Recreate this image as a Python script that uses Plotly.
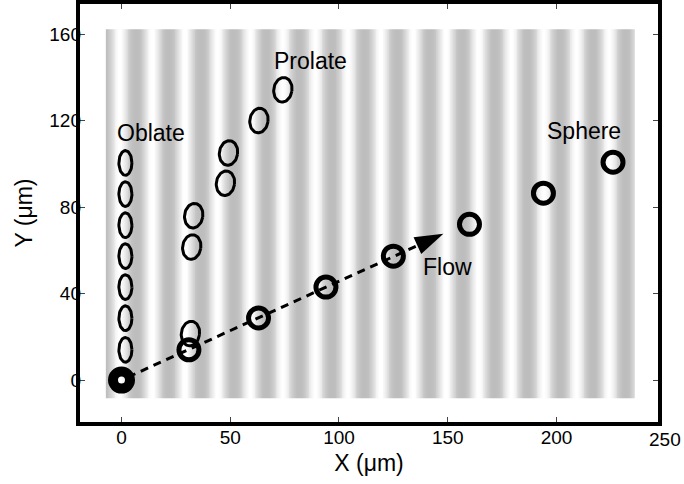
import numpy as np
import plotly.graph_objects as go

# ---- data ----
sphere_x = [0, 31, 63, 94, 125, 160, 194, 226]
sphere_y = [0, 14, 28.7, 43, 57.3, 72, 86.4, 100.7]

oblate_x = [1.8, 1.8, 1.8, 1.8, 1.8, 1.8, 1.8]
oblate_y = [14, 28.6, 43, 57.3, 71.6, 86, 100.4]

prolate_x = [31.7, 32.3, 33.2, 47.8, 49.2, 63.2, 74.2]
prolate_y = [21.5, 61.5, 76, 91, 105, 120, 134.2]

flow_start = [3, 1.4]
flow_tip = [148, 67.6]

labels = ["Oblate", "Prolate", "Sphere", "Flow"]
label_x = [13.4, 87.0, 212.5, 150]
label_y = [114.2, 147.7, 115.0, 52.1]

x_ticks = [0, 50, 100, 150, 200, 250]
y_ticks = [0, 40, 80, 120, 160]

FONT = "Liberation Sans, Arial, Helvetica, sans-serif"
X_RANGE = [-20, 247.6]
Y_RANGE = [-20.3, 174.8]
W, H = 684, 484
ML, MR, MT, MB = 77.5, 23.5, 2, 60

fig = go.Figure()

# ---- striped background (visual texture of the image) ----
bx = np.arange(-7.2, 236.01, 0.4)
phase = np.cos(2 * np.pi * (bx[:-1] + 0.2 - (-0.8)) / 15.0)
zrow = ((1 + phase) / 2) ** 1.4
fig.add_trace(go.Heatmap(
    x=bx, y=[-8.5, 162.2], z=[zrow],
    colorscale=[[0, "#bdbdbd"], [1, "#ffffff"]], showscale=False,
    hoverinfo="skip", zmin=0, zmax=1))


def ellipse_path(cx, cy, a, b, rot_deg=0.0, n=60):
    xs, ys = [], []
    t = np.linspace(0, 2 * np.pi, n)
    r = np.deg2rad(rot_deg)
    for x0, y0 in zip(cx, cy):
        ex = a * np.cos(t)
        ey = b * np.sin(t)
        xs += list(x0 + ex * np.cos(r) - ey * np.sin(r)) + [None]
        ys += list(y0 + ex * np.sin(r) + ey * np.cos(r)) + [None]
    return xs, ys


ox, oy = ellipse_path(oblate_x, oblate_y, 3.0, 5.7)
fig.add_trace(go.Scatter(x=ox, y=oy, mode="lines",
                         line=dict(color="black", width=3), hoverinfo="skip"))

px_, py_ = ellipse_path(prolate_x, prolate_y, 4.2, 5.7, rot_deg=-8)
fig.add_trace(go.Scatter(x=px_, y=py_, mode="lines",
                         line=dict(color="black", width=3), hoverinfo="skip"))

# flow direction in pixel space (for arrowhead orientation)
sx = (W - ML - MR) / (X_RANGE[1] - X_RANGE[0])
sy = (H - MT - MB) / (Y_RANGE[1] - Y_RANGE[0])
dxp = (flow_tip[0] - flow_start[0]) * sx
dyp = (flow_tip[1] - flow_start[1]) * sy
ang = np.degrees(np.arctan2(dyp, dxp))
back = 8.0  # data units behind the tip where the dashed line ends
frac = back / (flow_tip[0] - flow_start[0])
end_x = flow_tip[0] - back
end_y = flow_tip[1] - frac * (flow_tip[1] - flow_start[1])

# flow dashed line
fig.add_trace(go.Scatter(x=[flow_start[0], end_x], y=[flow_start[1], end_y],
                         mode="lines",
                         line=dict(color="black", width=3, dash="8px,6px"),
                         hoverinfo="skip"))
fig.add_trace(go.Scatter(x=[flow_tip[0]], y=[flow_tip[1]], mode="markers",
                         marker=dict(symbol="arrow", size=30, color="black",
                                     angle=90 - ang, line=dict(width=0)),
                         hoverinfo="skip"))

# spheres
fig.add_trace(go.Scatter(x=sphere_x[1:], y=sphere_y[1:], mode="markers",
                         marker=dict(symbol="circle-open", size=20, color="black",
                                     line=dict(width=5, color="black")),
                         hoverinfo="skip"))
fig.add_trace(go.Scatter(x=sphere_x[:1], y=sphere_y[:1], mode="markers",
                         marker=dict(symbol="circle-open", size=17, color="black",
                                     line=dict(width=10, color="black")),
                         hoverinfo="skip"))

ann = []
for t, x, y in zip(labels, label_x, label_y):
    ann.append(dict(x=x, y=y, xref="x", yref="y", text=t, showarrow=False,
                    font=dict(family=FONT, size=23, color="black"),
                    xanchor="center", yanchor="middle"))
# "250" tick label sits just beyond the frame
ann.append(dict(x=(250 - X_RANGE[0]) / (X_RANGE[1] - X_RANGE[0]), y=0,
                xref="paper", yref="paper", text="250", showarrow=False,
                font=dict(family=FONT, size=19, color="black"),
                xanchor="center", yanchor="top", yshift=-3))

fig.update_layout(
    width=W, height=H,
    margin=dict(l=ML, r=MR, t=MT, b=MB, pad=0, autoexpand=False),
    paper_bgcolor="white", plot_bgcolor="white",
    showlegend=False,
    annotations=ann,
    font=dict(family=FONT, color="black"),
    xaxis=dict(range=X_RANGE, tickvals=x_ticks[:-1], ticks="inside", ticklen=7,
               tickwidth=1, tickcolor="#444", mirror="ticks", showline=False,
               showgrid=False, zeroline=False, tickfont=dict(size=19),
               title=dict(text="X (μm)", font=dict(size=23), standoff=7)),
    yaxis=dict(range=Y_RANGE, tickvals=y_ticks, ticks="inside", ticklen=7,
               tickwidth=1, tickcolor="#444", mirror="ticks", showline=False,
               showgrid=False, zeroline=False, tickfont=dict(size=19),
               ticklabelstandoff=-4,
               title=dict(text="Y (μm)", font=dict(size=23), standoff=10)),
    shapes=[dict(type="rect", xref="paper", yref="paper", x0=0, x1=1, y0=0, y1=1,
                 line=dict(color="black", width=4), layer="above")],
)

fig.write_html("out.html", post_script="document.body.style.margin='0px';",
               config={"displayModeBar": False})
